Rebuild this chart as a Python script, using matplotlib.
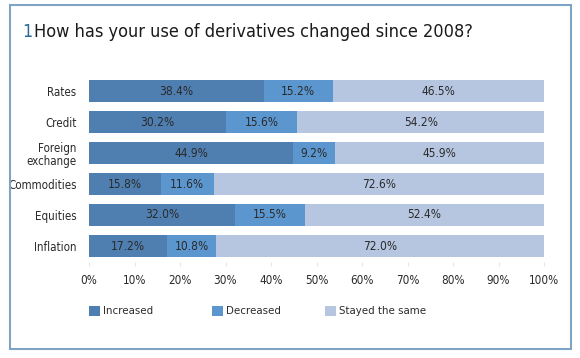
import matplotlib
matplotlib.use("Agg")
import matplotlib.pyplot as plt
from matplotlib.patches import Rectangle
import numpy as np

categories = ["Rates", "Credit", "Foreign\nexchange", "Commodities", "Equities", "Inflation"]
increased = [38.4, 30.2, 44.9, 15.8, 32.0, 17.2]
decreased = [15.2, 15.6, 9.2, 11.6, 15.5, 10.8]
same = [46.5, 54.2, 45.9, 72.6, 52.4, 72.0]
series_names = ["Increased", "Decreased", "Stayed the same"]
colors = ["#4f7fb1", "#5b96cf", "#b6c6e1"]
xticks = [0, 10, 20, 30, 40, 50, 60, 70, 80, 90, 100]

plt.rcParams['font.family'] = ['DejaVu Sans']
fig = plt.figure(figsize=(5.8, 3.58), dpi=100)
ax = fig.add_axes([89/580, 1-261.5/358, (544-89)/580, 186/358])

y = np.arange(len(categories))
left = np.zeros(len(categories))
txt = "#2a2a2a"
for vals, c, name in zip([increased, decreased, same], colors, series_names):
    ax.barh(y, vals, left=left, height=0.72, color=c, label=name, edgecolor='none')
    for yi, v, l in zip(y, vals, left):
        ax.text(l + v/2, yi, f"{v:.1f}%", ha='center', va='center', fontsize=8.6,
                color=txt, fontstretch='condensed')
    left = left + np.array(vals)

ax.set_xlim(0, 100)
ax.set_ylim(len(categories) - 0.5, -0.5)
ax.set_yticks(y)
ax.set_yticklabels(categories, fontsize=8.3, color=txt, fontstretch='condensed', linespacing=1.0)
ax.set_xticks(xticks)
ax.set_xticklabels([f"{t}%" for t in xticks], fontsize=8.4, color=txt, fontstretch='condensed')
ax.tick_params(axis='y', length=0, pad=9)
ax.tick_params(axis='x', length=3, color='#e6e6e6', pad=6)
for s in ax.spines.values():
    s.set_visible(False)

fig.text(22/580, 1-32/358, "1", fontsize=13, color="#2b6a9a", va='center', ha='left', fontstretch='condensed')
fig.text(34/580, 1-32/358, "How has your use of derivatives changed since 2008?", fontsize=13,
         color="#1a1a1a", va='center', ha='left', fontstretch='condensed')

handles, labels = ax.get_legend_handles_labels()
leg_x = [89, 212, 325]
for h, l, lx in zip(handles, labels, leg_x):
    leg = fig.legend([h], [l], loc='center left', bbox_to_anchor=(lx/580, 1-311/358),
                     frameon=False, fontsize=8.2, handlelength=1.0, handleheight=1.0,
                     handletextpad=0.25, borderaxespad=0, borderpad=0)
    for t in leg.get_texts():
        t.set_color(txt)
        t.set_fontstretch('condensed')

fig.patches.append(Rectangle((10/580, 1-349/358), (571-10)/580, (349-5)/358, transform=fig.transFigure,
                             fill=False, edgecolor="#7ea3c4", linewidth=1.5))

fig.savefig("out.png", dpi=100)
